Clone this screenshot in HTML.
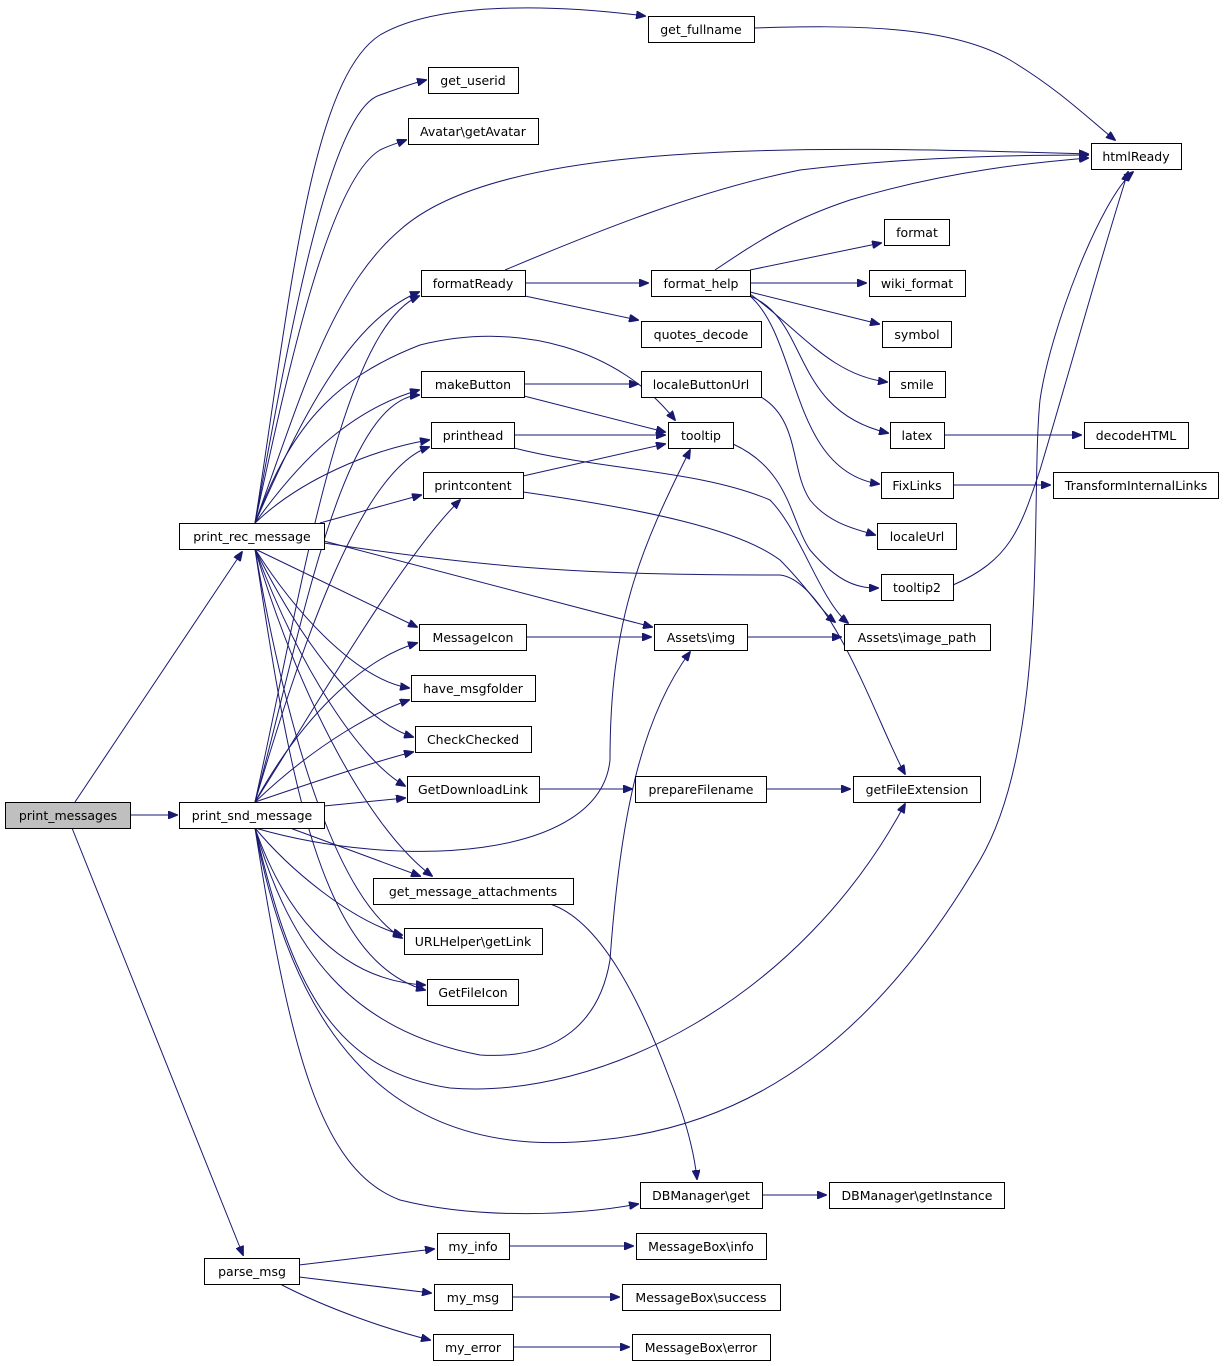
<!DOCTYPE html>
<html><head><meta charset="utf-8"><style>
html,body{margin:0;padding:0;background:#fff}
svg{display:block}
text{font-family:"DejaVu Sans","Liberation Sans",sans-serif;font-size:12.5px;fill:#000}
.n{fill:#fff;stroke:#000;stroke-width:1}
.e{fill:none;stroke:#191970;stroke-width:1}
</style></head><body>
<svg width="1224" height="1366" viewBox="0 0 1224 1366" xmlns="http://www.w3.org/2000/svg">
<defs><marker id="a" markerWidth="10" markerHeight="8" refX="9" refY="4" orient="auto" markerUnits="userSpaceOnUse"><path d="M0,0 L10,4 L0,8 z" fill="#191970" stroke="#191970"/></marker></defs>
<g class="e" marker-end="url(#a)">
<path d="M75,802 L242,552"/>
<path d="M130,815 L177,815"/>
<path d="M72,828 L243,1255"/>
<path d="M255,523 C290,300 310,80 380,35 C440,0 560,5 645,16"/>
<path d="M255,523 C290,330 330,110 380,95 C400,88 410,84 426,80"/>
<path d="M255,523 C290,360 330,180 380,150 C390,145 398,143 406,140"/>
<path d="M255,523 C300,400 330,290 400,230 C500,140 800,145 1088,154"/>
<path d="M255,523 C300,420 350,320 419,292"/>
<path d="M255,523 C290,430 330,380 420,345 C520,320 620,350 675,420"/>
<path d="M255,523 C300,460 350,410 419,390"/>
<path d="M255,523 C300,480 370,450 429,440"/>
<path d="M320,523 L421,495"/>
<path d="M255,549 L417,627"/>
<path d="M320,540 L652,627"/>
<path d="M324,543 C500,570 600,575 780,575 C830,580 880,730 905,774"/>
<path d="M255,549 C300,620 360,680 409,688"/>
<path d="M255,549 C300,640 360,720 413,737"/>
<path d="M255,549 C300,670 360,760 405,786"/>
<path d="M255,549 C300,700 370,830 432,876"/>
<path d="M255,549 C290,750 340,900 402,938"/>
<path d="M255,549 C290,780 320,960 425,990"/>
<path d="M255,802 C300,600 340,330 419,296"/>
<path d="M255,802 C300,640 340,400 419,395"/>
<path d="M255,802 C300,650 360,470 429,447"/>
<path d="M255,802 C320,700 400,560 460,500"/>
<path d="M255,828 C400,870 600,860 610,760 C610,620 640,550 690,450"/>
<path d="M255,802 C300,720 360,660 417,643"/>
<path d="M255,802 C320,740 380,710 409,700"/>
<path d="M255,802 C320,780 380,760 413,752"/>
<path d="M324,806 L405,798"/>
<path d="M290,828 L420,876"/>
<path d="M255,828 C290,870 350,920 402,935"/>
<path d="M255,828 C280,900 330,980 425,985"/>
<path d="M255,828 C290,950 350,1030 480,1055 C560,1060 600,1020 610,960 C620,820 640,720 690,652"/>
<path d="M255,828 C290,980 330,1070 450,1088 C600,1100 800,1000 905,804"/>
<path d="M255,828 C300,1070 420,1160 600,1140 C760,1125 880,1030 980,860 C1050,740 1030,500 1040,400 C1050,330 1100,200 1133,172"/>
<path d="M255,828 C290,1050 320,1170 400,1200 C480,1220 580,1215 638,1204"/>
<path d="M505,270 C600,230 700,190 800,170 C900,158 1000,155 1088,155"/>
<path d="M525,283 L648,283"/>
<path d="M525,296 L638,320"/>
<path d="M715,270 C760,240 790,220 850,200 C950,170 1040,162 1088,158"/>
<path d="M750,270 L881,243"/>
<path d="M750,283 L866,283"/>
<path d="M750,292 L879,324"/>
<path d="M750,294 C800,330 830,375 887,382"/>
<path d="M750,296 C810,320 790,410 888,433"/>
<path d="M750,296 C800,340 790,470 879,484"/>
<path d="M524,384 L638,384"/>
<path d="M524,396 L665,432"/>
<path d="M761,397 C800,420 790,470 810,500 C830,525 860,530 875,535"/>
<path d="M514,435 L665,435"/>
<path d="M514,448 C600,470 700,470 770,500 C800,530 820,600 848,623"/>
<path d="M523,476 L665,444"/>
<path d="M523,492 C650,510 740,530 780,560 C810,590 820,610 835,622"/>
<path d="M733,444 C790,470 790,520 810,550 C840,585 860,588 878,588"/>
<path d="M953,585 C1010,560 1020,530 1040,470 C1070,370 1100,260 1128,172"/>
<path d="M754,28 C850,25 950,25 1010,60 C1060,90 1090,120 1115,140"/>
<path d="M944,435 L1081,435"/>
<path d="M953,485 L1050,485"/>
<path d="M526,637 L651,637"/>
<path d="M747,637 L841,637"/>
<path d="M539,789 L632,789"/>
<path d="M766,789 L850,789"/>
<path d="M550,904 C600,920 640,1000 670,1080 C690,1130 695,1160 697,1179"/>
<path d="M762,1195 L826,1195"/>
<path d="M299,1265 L434,1249"/>
<path d="M299,1277 L431,1293"/>
<path d="M280,1284 C330,1310 390,1330 430,1340"/>
<path d="M509,1246 L633,1246"/>
<path d="M512,1297 L619,1297"/>
<path d="M513,1347 L629,1347"/>
</g>
<g text-anchor="middle">
<rect x="5.5" y="802.5" width="125" height="26" style="fill:#bfbfbf;stroke:#000"/><text x="68" y="820">print_messages</text>
<rect class="n" x="179.5" y="523.5" width="145" height="26"/><text x="252" y="541">print_rec_message</text>
<rect class="n" x="179.5" y="802.5" width="145" height="26"/><text x="252" y="820">print_snd_message</text>
<rect class="n" x="204.5" y="1258.5" width="95" height="26"/><text x="252" y="1276">parse_msg</text>
<rect class="n" x="648.5" y="16.5" width="106" height="26"/><text x="701" y="34">get_fullname</text>
<rect class="n" x="428.5" y="67.5" width="90" height="26"/><text x="473" y="85">get_userid</text>
<rect class="n" x="408.5" y="118.5" width="130" height="26"/><text x="473" y="136">Avatar\getAvatar</text>
<rect class="n" x="1091.5" y="143.5" width="90" height="26"/><text x="1136" y="161">htmlReady</text>
<rect class="n" x="884.5" y="219.5" width="65" height="26"/><text x="917" y="237">format</text>
<rect class="n" x="421.5" y="270.5" width="104" height="26"/><text x="473" y="288">formatReady</text>
<rect class="n" x="651.5" y="270.5" width="99" height="26"/><text x="701" y="288">format_help</text>
<rect class="n" x="869.5" y="270.5" width="96" height="26"/><text x="917" y="288">wiki_format</text>
<rect class="n" x="641.5" y="321.5" width="120" height="26"/><text x="701" y="339">quotes_decode</text>
<rect class="n" x="882.5" y="321.5" width="69" height="26"/><text x="917" y="339">symbol</text>
<rect class="n" x="421.5" y="371.5" width="103" height="26"/><text x="473" y="389">makeButton</text>
<rect class="n" x="641.5" y="371.5" width="120" height="26"/><text x="701" y="389">localeButtonUrl</text>
<rect class="n" x="889.5" y="371.5" width="56" height="26"/><text x="917" y="389">smile</text>
<rect class="n" x="431.5" y="422.5" width="83" height="26"/><text x="473" y="440">printhead</text>
<rect class="n" x="668.5" y="422.5" width="65" height="26"/><text x="701" y="440">tooltip</text>
<rect class="n" x="890.5" y="422.5" width="54" height="26"/><text x="917" y="440">latex</text>
<rect class="n" x="1084.5" y="422.5" width="104" height="26"/><text x="1136" y="440">decodeHTML</text>
<rect class="n" x="423.5" y="472.5" width="100" height="26"/><text x="473" y="490">printcontent</text>
<rect class="n" x="881.5" y="472.5" width="72" height="26"/><text x="917" y="490">FixLinks</text>
<rect class="n" x="1053.5" y="472.5" width="165" height="26"/><text x="1136" y="490">TransformInternalLinks</text>
<rect class="n" x="877.5" y="523.5" width="79" height="26"/><text x="917" y="541">localeUrl</text>
<rect class="n" x="881.5" y="574.5" width="72" height="26"/><text x="917" y="592">tooltip2</text>
<rect class="n" x="419.5" y="624.5" width="107" height="26"/><text x="473" y="642">MessageIcon</text>
<rect class="n" x="654.5" y="624.5" width="93" height="26"/><text x="701" y="642">Assets\img</text>
<rect class="n" x="844.5" y="624.5" width="146" height="26"/><text x="917" y="642">Assets\image_path</text>
<rect class="n" x="411.5" y="675.5" width="124" height="26"/><text x="473" y="693">have_msgfolder</text>
<rect class="n" x="415.5" y="726.5" width="116" height="26"/><text x="473" y="744">CheckChecked</text>
<rect class="n" x="407.5" y="776.5" width="132" height="26"/><text x="473" y="794">GetDownloadLink</text>
<rect class="n" x="635.5" y="776.5" width="131" height="26"/><text x="701" y="794">prepareFilename</text>
<rect class="n" x="853.5" y="776.5" width="127" height="26"/><text x="917" y="794">getFileExtension</text>
<rect class="n" x="373.5" y="878.5" width="200" height="26"/><text x="473" y="896">get_message_attachments</text>
<rect class="n" x="404.5" y="928.5" width="138" height="26"/><text x="473" y="946">URLHelper\getLink</text>
<rect class="n" x="427.5" y="979.5" width="91" height="26"/><text x="473" y="997">GetFileIcon</text>
<rect class="n" x="640.5" y="1182.5" width="122" height="26"/><text x="701" y="1200">DBManager\get</text>
<rect class="n" x="829.5" y="1182.5" width="175" height="26"/><text x="917" y="1200">DBManager\getInstance</text>
<rect class="n" x="437.5" y="1233.5" width="72" height="26"/><text x="473" y="1251">my_info</text>
<rect class="n" x="636.5" y="1233.5" width="130" height="26"/><text x="701" y="1251">MessageBox\info</text>
<rect class="n" x="434.5" y="1284.5" width="78" height="26"/><text x="473" y="1302">my_msg</text>
<rect class="n" x="622.5" y="1284.5" width="158" height="26"/><text x="701" y="1302">MessageBox\success</text>
<rect class="n" x="433.5" y="1334.5" width="80" height="26"/><text x="473" y="1352">my_error</text>
<rect class="n" x="632.5" y="1334.5" width="138" height="26"/><text x="701" y="1352">MessageBox\error</text>
</g>
</svg>
</body></html>
